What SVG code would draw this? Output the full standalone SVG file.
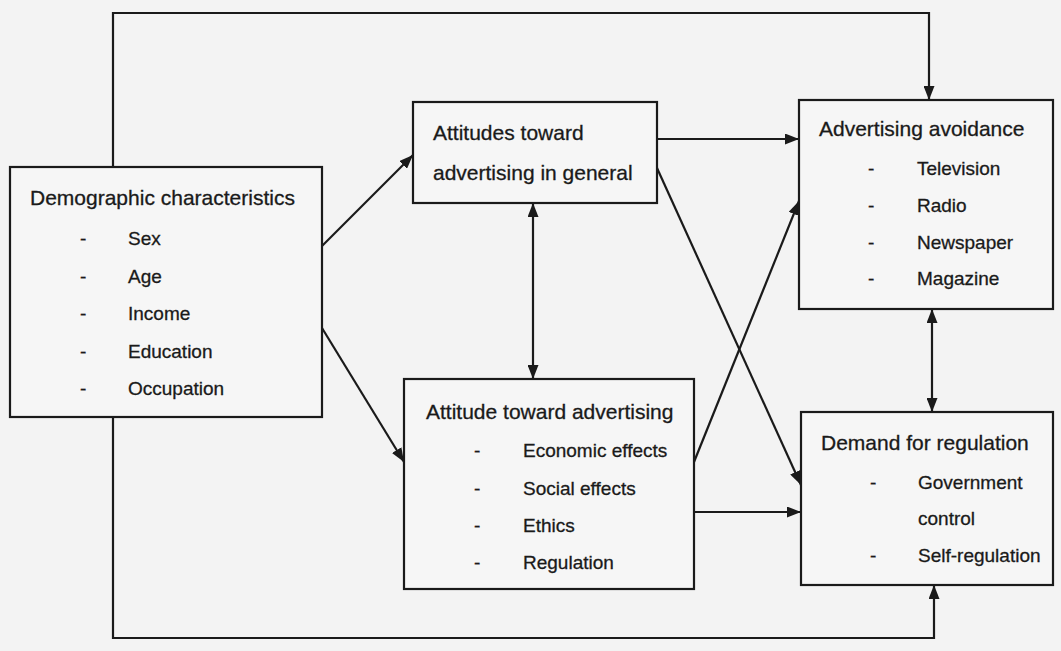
<svg xmlns="http://www.w3.org/2000/svg" width="1061" height="651" viewBox="0 0 1061 651">
  <style>
    .box { fill: #f6f6f6; stroke: #1a1a1a; stroke-width: 2.2; }
    .t { font-family: "Liberation Sans", Arial, sans-serif; font-size: 21px; fill: #1a1a1a; stroke: #1a1a1a; stroke-width: 0.3; }
    .t.i { font-size: 19px; }
    .ln { fill: none; stroke: #1a1a1a; stroke-width: 2.2; }
  </style>
  <defs>
    <marker id="arr" viewBox="0 0 14 11" refX="14" refY="5.5" markerWidth="14" markerHeight="11" markerUnits="userSpaceOnUse" orient="auto-start-reverse">
      <path d="M0,0 L14,5.5 L0,11 Z" fill="#1a1a1a"/>
    </marker>
  </defs>
  <rect x="0" y="0" width="1061" height="651" fill="#f3f3f3"/>

  <g id="connectors">
    <!-- frame line over the top into Advertising avoidance -->
    <polyline class="ln" points="113,167 113,13 929,13 929,100" marker-end="url(#arr)"/>
    <!-- frame line under the bottom into Demand for regulation -->
    <polyline class="ln" points="113,417 113,638 934,638 934,585" marker-end="url(#arr)"/>
    <line class="ln" x1="322" y1="246" x2="413" y2="155" marker-end="url(#arr)"/>
    <line class="ln" x1="322" y1="328" x2="404" y2="462" marker-end="url(#arr)"/>
    <line class="ln" x1="533" y1="203" x2="533" y2="379" marker-start="url(#arr)" marker-end="url(#arr)"/>
    <line class="ln" x1="657" y1="139" x2="799" y2="139" marker-end="url(#arr)"/>
    <line class="ln" x1="657" y1="168" x2="801" y2="485" marker-end="url(#arr)"/>
    <line class="ln" x1="694" y1="462" x2="799" y2="201" marker-end="url(#arr)"/>
    <line class="ln" x1="694" y1="512" x2="801" y2="512" marker-end="url(#arr)"/>
    <line class="ln" x1="932" y1="309" x2="932" y2="412" marker-start="url(#arr)" marker-end="url(#arr)"/>
  </g>

  <g id="demographic">
    <rect class="box" x="10" y="167" width="312" height="250"/>
    <text class="t" x="30" y="205">Demographic characteristics</text>
    <text class="t i" x="80" y="245">-</text><text class="t i" x="128" y="245">Sex</text>
    <text class="t i" x="80" y="283">-</text><text class="t i" x="128" y="283">Age</text>
    <text class="t i" x="80" y="320">-</text><text class="t i" x="128" y="320">Income</text>
    <text class="t i" x="80" y="358">-</text><text class="t i" x="128" y="358">Education</text>
    <text class="t i" x="80" y="395">-</text><text class="t i" x="128" y="395">Occupation</text>
  </g>

  <g id="attitudes-general">
    <rect class="box" x="413" y="102" width="244" height="101"/>
    <text class="t" x="433" y="140">Attitudes toward</text>
    <text class="t" x="433" y="180">advertising in general</text>
  </g>

  <g id="attitude-advertising">
    <rect class="box" x="404" y="379" width="290" height="210"/>
    <text class="t" x="426" y="419">Attitude toward advertising</text>
    <text class="t i" x="474" y="457">-</text><text class="t i" x="523" y="457">Economic effects</text>
    <text class="t i" x="474" y="495">-</text><text class="t i" x="523" y="495">Social effects</text>
    <text class="t i" x="474" y="532">-</text><text class="t i" x="523" y="532">Ethics</text>
    <text class="t i" x="474" y="569">-</text><text class="t i" x="523" y="569">Regulation</text>
  </g>

  <g id="avoidance">
    <rect class="box" x="799" y="100" width="254" height="209"/>
    <text class="t" x="819" y="136">Advertising avoidance</text>
    <text class="t i" x="868" y="175">-</text><text class="t i" x="917" y="175">Television</text>
    <text class="t i" x="868" y="212">-</text><text class="t i" x="917" y="212">Radio</text>
    <text class="t i" x="868" y="249">-</text><text class="t i" x="917" y="249">Newspaper</text>
    <text class="t i" x="868" y="285">-</text><text class="t i" x="917" y="285">Magazine</text>
  </g>

  <g id="demand">
    <rect class="box" x="801" y="412" width="252" height="173"/>
    <text class="t" x="821" y="450">Demand for regulation</text>
    <text class="t i" x="870" y="489">-</text><text class="t i" x="918" y="489">Government</text>
    <text class="t i" x="918" y="525">control</text>
    <text class="t i" x="870" y="562">-</text><text class="t i" x="918" y="562">Self-regulation</text>
  </g>
</svg>
